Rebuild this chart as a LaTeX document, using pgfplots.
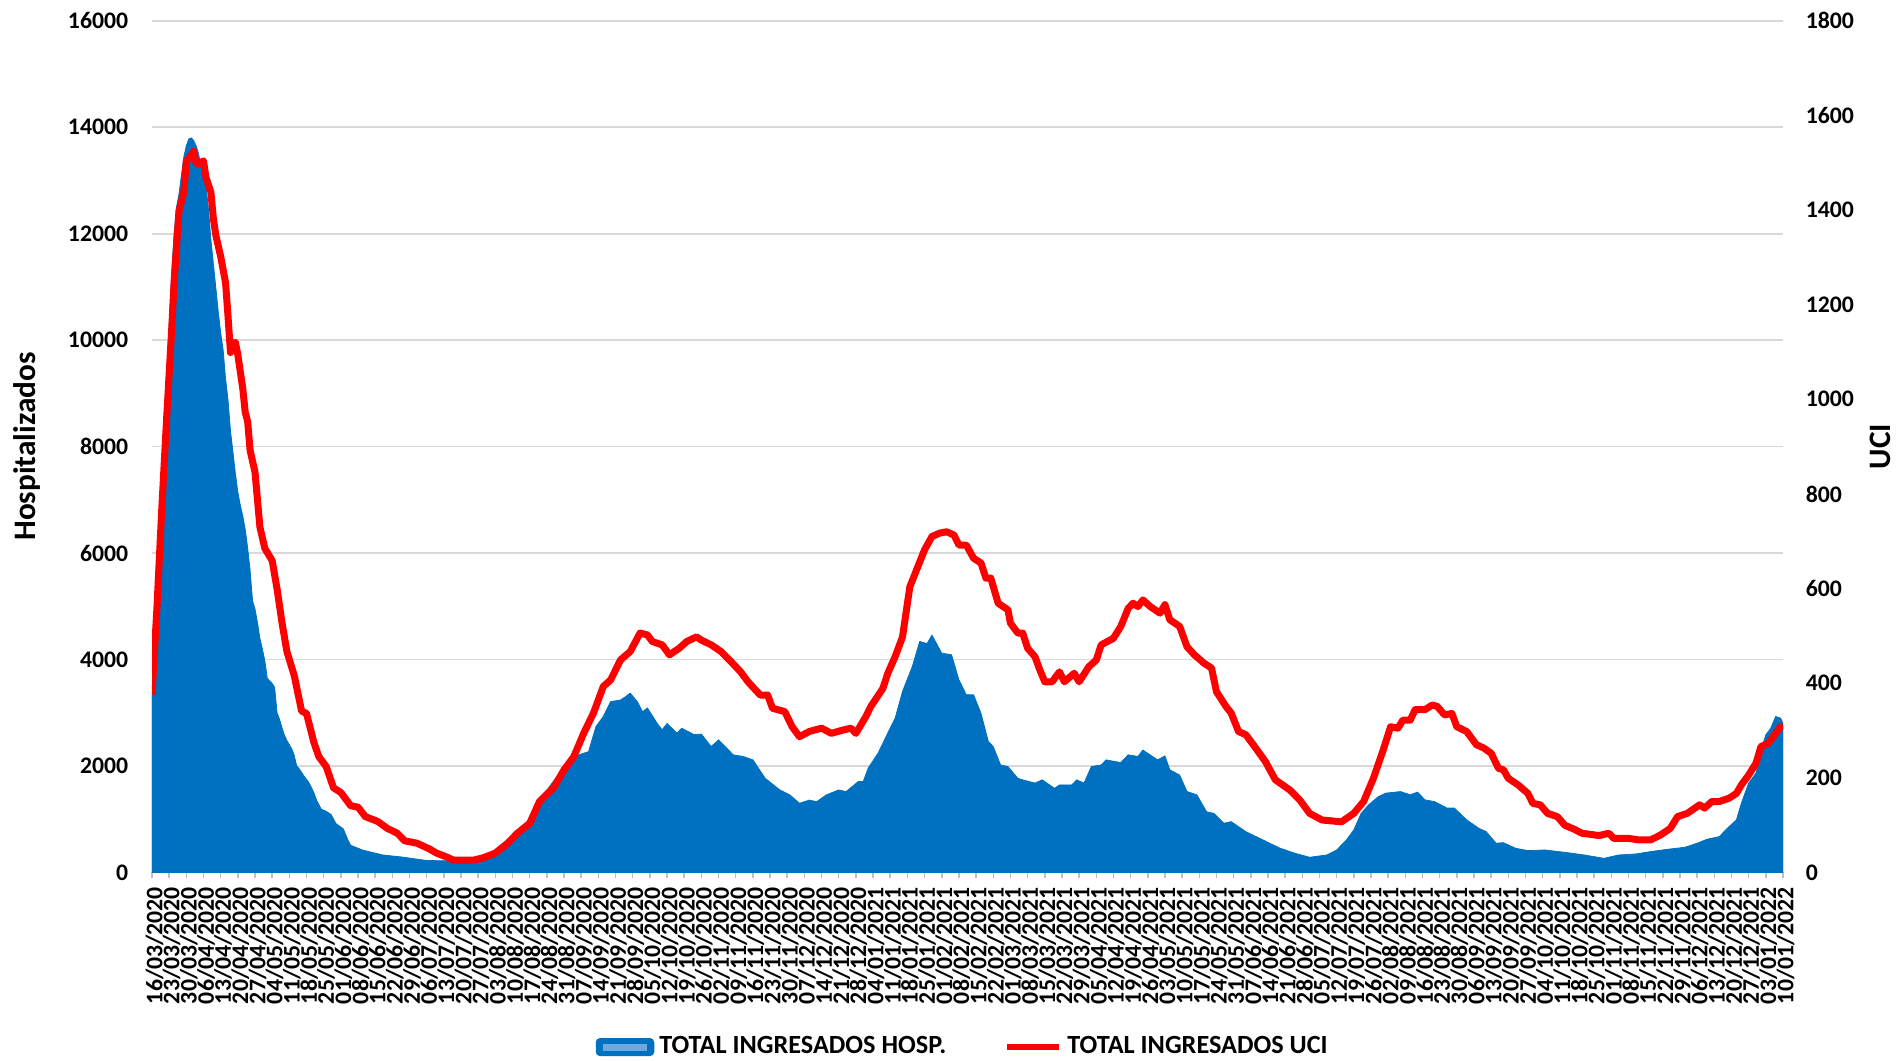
\documentclass[border=0pt]{standalone}
\usepackage{fontspec}
\setmainfont{Carlito}
\usepackage{pgfplots}
\pgfplotsset{compat=1.18}
\definecolor{hospblue}{HTML}{0070C0}
\definecolor{hosplight}{HTML}{6FA8DC}
\definecolor{ucired}{HTML}{FF0000}
\definecolor{gridgray}{HTML}{D9D9D9}
\definecolor{axisgray}{HTML}{BFBFBF}

\begin{document}
\begin{tikzpicture}
\useasboundingbox (0,0) rectangle (758.4pt,424.4pt);
\pgfplotsset{
  base/.style={
    scale only axis, width=652.4pt, height=340.7pt,
    at={(60.8pt,75.4pt)}, anchor=south west,
    xmin=0, xmax=665,
    scaled y ticks=false,
    /pgf/number format/assume math mode=true,
    /pgf/number format/1000 sep={},
    tick label style={font=\fontsize{9.5}{11}\selectfont\bfseries},
    tick align=outside,
    major tick length=2.4pt,
    ytick style={draw=none},
    label style={font=\fontsize{12.5}{14}\selectfont\bfseries},
  }
}

% hospitalizados (left axis)
\begin{axis}[base,
  ymin=0, ymax=16000, ytick={0,2000,...,16000},
  axis y line*=left, y axis line style={draw=none},
  axis x line*=bottom, x axis line style={axisgray, line width=0.8pt, -},
  xtick style={axisgray, line width=0.6pt},
  ymajorgrids, grid style={gridgray, line width=0.7pt},
  yticklabel style={xshift=-3.6pt},
  xtick={0,7,...,665},
  xticklabel style={rotate=90, anchor=east, yshift=-1pt},
  xticklabels={16/03/2020,23/03/2020,30/03/2020,06/04/2020,13/04/2020,20/04/2020,27/04/2020,04/05/2020,11/05/2020,18/05/2020,25/05/2020,01/06/2020,08/06/2020,15/06/2020,22/06/2020,29/06/2020,06/07/2020,13/07/2020,20/07/2020,27/07/2020,03/08/2020,10/08/2020,17/08/2020,24/08/2020,31/08/2020,07/09/2020,14/09/2020,21/09/2020,28/09/2020,05/10/2020,12/10/2020,19/10/2020,26/10/2020,02/11/2020,09/11/2020,16/11/2020,23/11/2020,30/11/2020,07/12/2020,14/12/2020,21/12/2020,28/12/2020,04/01/2021,11/01/2021,18/01/2021,25/01/2021,01/02/2021,08/02/2021,15/02/2021,22/02/2021,01/03/2021,08/03/2021,15/03/2021,22/03/2021,29/03/2021,05/04/2021,12/04/2021,19/04/2021,26/04/2021,03/05/2021,10/05/2021,17/05/2021,24/05/2021,31/05/2021,07/06/2021,14/06/2021,21/06/2021,28/06/2021,05/07/2021,12/07/2021,19/07/2021,26/07/2021,02/08/2021,09/08/2021,16/08/2021,23/08/2021,30/08/2021,06/09/2021,13/09/2021,20/09/2021,27/09/2021,04/10/2021,11/10/2021,18/10/2021,25/10/2021,01/11/2021,08/11/2021,15/11/2021,22/11/2021,29/11/2021,06/12/2021,13/12/2021,20/12/2021,27/12/2021,03/01/2022,10/01/2022},
  ylabel={Hospitalizados},
  ylabel style={at={(axis description cs:-0.0769,0.5)}, anchor=center},
]
\addplot[draw=hospblue, line width=0.3pt, fill=hospblue] coordinates {
(0,3340) (1,4400) (2,5500) (3,6600) (4,7600) (5,8600) (6,9370) (7,10300) (8,11260)
(9,12000) (10,12500) (11,12750) (12,13100) (13,13450) (14,13650) (15,13780) (16,13800)
(17,13750) (18,13650) (19,13500) (20,13250) (21,13100) (22,12900) (23,12480) (24,11900)
(25,11450) (26,11000) (27,10540) (28,10140) (29,9820) (30,9280) (31,8880) (32,8300)
(33,7900) (34,7500) (35,7150) (36,6900) (37,6700) (38,6450) (39,6100) (40,5680)
(41,5100) (42,4950) (43,4700) (44,4400) (45,4200) (46,3980) (47,3650) (48,3600)
(49,3550) (50,3480) (51,3000) (52,2880) (53,2720) (54,2580) (55,2480) (56,2400)
(57,2320) (58,2200) (59,2000) (60,1950) (62,1810) (64,1690) (66,1500) (67,1370)
(69,1190) (71,1150) (73,1090) (75,920) (78,820) (80,600) (81,510) (86,420) (94,330)
(102,290) (112,225) (120,220) (132,200) (140,360) (147,610) (154,990) (158,1300)
(162,1610) (166,1860) (170,2050) (174,2210) (178,2270) (179,2430) (181,2740) (184,2930)
(187,3210) (191,3240) (193,3300) (195,3370) (198,3200) (200,3020) (202,3090) (206,2800)
(208,2680) (210,2800) (214,2620) (216,2710) (221,2590) (224,2600) (228,2365) (231,2490)
(237,2210) (241,2180) (245,2115) (250,1770) (256,1550) (260,1460) (264,1300) (268,1360)
(271,1330) (275,1460) (280,1550) (283,1520) (288,1710) (290,1710) (292,1960) (296,2240)
(300,2620) (303,2900) (306,3400) (310,3870) (313,4340) (316,4300) (318,4460) (322,4120)
(326,4090) (329,3620) (332,3340) (335,3337) (338,2990) (341,2460) (343,2365) (346,2020)
(349,1990) (353,1770) (355,1740) (360,1680) (363,1740) (368,1580) (370,1645) (375,1645)
(377,1740) (380,1680) (383,1990) (387,2020) (389,2115) (395,2065) (398,2210) (402,2180)
(404,2300) (410,2115) (413,2190) (415,1930) (419,1830) (422,1520) (426,1460) (430,1140)
(433,1110) (437,925) (440,955) (446,767) (453,611) (460,455) (466,361) (472,286)
(479,329) (483,423) (487,611) (490,800) (493,1110) (496,1270) (500,1425) (503,1490)
(509,1520) (513,1460) (516,1510) (519,1365) (523,1330) (528,1210) (531,1210) (536,990)
(541,830) (544,767) (548,550) (551,560) (556,455) (561,411) (568,423) (577,373)
(584,329) (592,266) (598,329) (605,348) (611,392) (618,436) (625,474) (630,549)
(634,624) (639,674) (643,862) (646,987) (648,1300) (651,1680) (654,1870) (656,2300)
(658,2585) (660,2710) (662,2930) (664,2900) (665,2805)
} \closedcycle;
\end{axis}

% UCI (right axis)
\begin{axis}[base,
  ymin=0, ymax=1800, ytick={0,200,...,1800},
  axis y line*=right, y axis line style={draw=none},
  axis x line=none,
  yticklabel style={xshift=3.2pt},
  ylabel={UCI},
  ylabel style={at={(axis description cs:1.0595,0.5)}, anchor=center},
  legend columns=2,
  legend style={draw=none, fill=none, at={(0.498,-0.205)}, anchor=center,
    font=\fontsize{10.5}{12}\selectfont\bfseries,
    /tikz/every even column/.append style={column sep=21pt}},
]
\addlegendimage{legend image code/.code={
  \draw[hospblue, fill=hospblue, rounded corners=1.5pt] (0pt,-3.4pt) rectangle (23pt,3.4pt);
  \fill[hosplight] (3pt,-1.2pt) rectangle (20pt,1.2pt);}}
\addlegendentry{TOTAL INGRESADOS HOSP.}
\addplot[ucired, line width=2.8pt, line join=round,
  legend image code/.code={\draw[ucired, line width=2.4pt] (0pt,0pt) -- (21pt,0pt);}] coordinates {
(0,376) (2,558) (4,770) (6,963) (8,1145) (9,1246) (11,1398) (13,1438) (14,1504) (15,1509)
(17,1524) (18,1499) (19,1497) (21,1504) (22,1469) (24,1438) (25,1383) (26,1347) (28,1302)
(30,1246) (31,1175) (32,1099) (34,1120) (35,1094) (37,1023) (38,973) (39,953) (40,892)
(42,846) (44,730) (46,685) (49,659) (51,599) (53,528) (55,467) (58,416) (59,391) (61,341)
(63,336) (66,275) (68,245) (71,224) (74,179) (77,169) (81,141) (84,138) (87,118) (92,108)
(96,93) (100,83) (103,67) (108,62) (113,50) (116,41) (120,33) (123,26) (131,26) (135,31)
(140,41) (145,62) (149,83) (154,104) (158,150) (164,181) (168,217) (172,245) (176,294)
(180,337) (184,393) (187,407) (191,449) (195,467) (199,506) (202,502) (204,488) (208,481)
(211,460) (215,474) (218,488) (222,498) (224,491) (228,481) (232,467) (236,446) (240,424)
(243,403) (248,375) (251,375) (253,347) (258,340) (261,308) (264,287) (268,298) (273,305)
(277,294) (281,300) (285,305) (287,294) (291,329) (293,350) (298,389) (300,421) (303,456)
(306,498) (309,604) (312,643) (315,682) (318,710) (321,717) (324,720) (327,713) (329,692)
(332,692) (335,664) (338,654) (340,622) (342,622) (345,569) (349,555) (350,527) (353,506)
(355,506) (357,474) (360,456) (362,428) (364,403) (367,403) (370,424) (372,403) (376,421)
(378,403) (382,435) (385,449) (387,481) (392,495) (395,520) (398,558) (400,569) (402,562)
(404,576) (407,562) (411,548) (413,566) (415,534) (419,520) (422,477) (425,460) (429,442)
(432,432) (434,382) (438,350) (440,337) (443,298) (446,291) (450,263) (454,234) (458,196)
(464,174) (468,153) (472,125) (477,111) (485,107) (490,125) (494,150) (498,199) (502,259)
(505,308) (508,305) (510,322) (513,322) (515,344) (519,344) (522,354) (524,351) (527,333)
(530,336) (532,308) (536,298) (540,270) (543,263) (546,252) (549,220) (551,217) (553,199)
(557,185) (561,167) (563,146) (566,143) (569,125) (573,118) (576,100) (580,91) (583,83)
(590,78) (594,83) (596,72) (602,72) (606,69) (611,69) (615,79) (619,93) (622,118) (626,125)
(631,143) (633,136) (636,150) (639,150) (643,157) (646,167) (648,185) (651,206) (654,231)
(656,266) (659,273) (662,294) (664,308) (665,310)
};
\addlegendentry{TOTAL INGRESADOS UCI}
\end{axis}
\end{tikzpicture}
\end{document}
